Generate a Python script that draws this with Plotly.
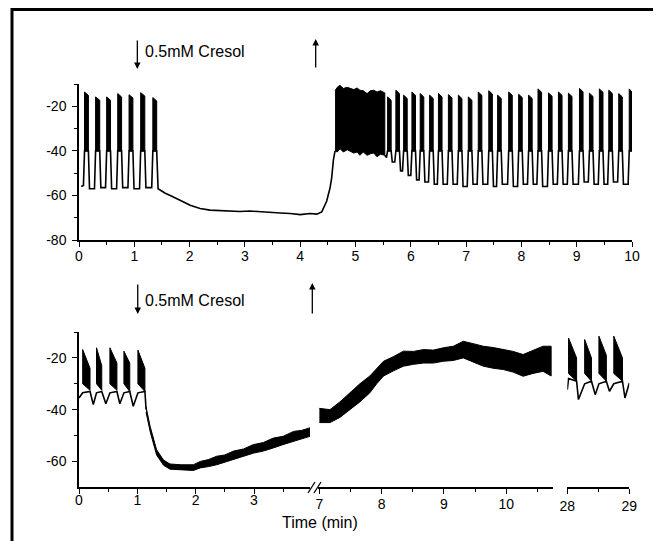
import plotly.graph_objects as go

# The page body adds an 8 px margin, so the figure is 8 px smaller and all
# screen positions below are converted with that offset.
OFF = 8
W, H = 661 - OFF, 541 - OFF
FONT = "Liberation Sans, Arial, sans-serif"

# ---------------- Top panel data (time in min, membrane potential in mV) ----------------
top_plateau = -40
top_pre_on = [0.10, 0.30, 0.50, 0.70, 0.905, 1.115, 1.335]
top_pre_off = [0.17, 0.375, 0.57, 0.77, 0.975, 1.19, 1.405]
top_pre_peak = [-13.6, -15.8, -15.8, -14.3, -14.8, -13.9, -16.1]
top_pre_trough = [-55.5, -57, -56.5, -57, -56.5, -57, -56.5]
top_start = (0.04, -56)

top_decay_t = [1.43, 1.47, 1.56, 1.65, 1.74, 1.83, 1.92, 2.01, 2.10, 2.19, 2.37, 2.55, 2.73,
               2.91, 3.09, 3.27, 3.46, 3.64, 3.82, 4.00, 4.18, 4.30, 4.39, 4.44, 4.48, 4.51,
               4.54, 4.57, 4.60, 4.63]
top_decay_v = [-57, -57.7, -59, -60, -61, -62.2, -63.3, -64.4, -65.2, -65.9, -66.6, -66.9, -67,
               -67.2, -67, -67.4, -67.8, -67.9, -68.1, -68.6, -68.1, -68.4, -67.4, -65, -62.5,
               -59.5, -56.6, -52, -44.2, -40]

top_band_t = [4.63, 4.67, 4.72, 4.78, 4.85, 4.90, 4.97, 5.03, 5.08, 5.14, 5.21, 5.27, 5.33, 5.39, 5.45, 5.53]
top_band_hi = [-13, -11.5, -10.6, -12, -11.5, -12, -12.5, -11.8, -12.8, -13, -14.3, -13, -12.8, -13.6, -13, -14]
top_band_lo = [-40, -40.5, -39, -40.5, -39.5, -40, -41, -40.5, -42, -40.5, -42, -41.3, -41, -42.7, -41.5, -42]

top_post_on = [5.58, 5.73, 5.87, 6.02, 6.17, 6.34, 6.50, 6.68, 6.86, 7.04, 7.22, 7.41, 7.57,
               7.77, 7.95, 8.13, 8.30, 8.49, 8.67, 8.85, 9.05, 9.23, 9.41, 9.58, 9.76, 9.95]
top_post_off = [5.645, 5.795, 5.935, 6.085, 6.235, 6.405, 6.565, 6.745, 6.925, 7.105, 7.285,
                7.475, 7.635, 7.835, 8.015, 8.195, 8.365, 8.555, 8.735, 8.915, 9.115, 9.295,
                9.475, 9.645, 9.825, 10.0]
top_post_peak = [-15.8, -12.8, -15, -13.6, -14.3, -15, -14.3, -14.8, -15, -15.8, -13.6, -13, -15,
                 -13.6, -14.6, -15, -12.2, -14, -13.6, -14.1, -12, -14.1, -12.2, -12.8, -14.3, -12.2]
top_post_trough = [-43, -45, -49, -51, -53, -54, -55, -55, -55, -56, -55, -55, -56, -55, -56,
                   -55, -55, -56, -55, -55, -55, -54, -55, -55, -54, -55]

# ---------------- Bottom panel data ----------------
# segment 1 (0 - 4 min)
bot_b_on = [0.063, 0.30, 0.53, 0.77, 1.01]
bot_b_off = [0.189, 0.39, 0.65, 0.87, 1.13]
bot_b_peak = [-16.8, -16.1, -16.1, -17.4, -17.0]
bot_b_end = [-24, -23, -22, -22, -24]
bot_b_base_on = [-30, -30, -30, -30, -30]
bot_b_base_off = [-32.5, -32.5, -32.5, -33, -33]

bot_line_t = [0.0, 0.063, 0.189, 0.245, 0.30, 0.39, 0.46, 0.53, 0.65, 0.70, 0.77, 0.87, 0.93,
              1.01, 1.13, 1.15]
bot_line_v = [-35.5, -33.5, -33, -38, -33.5, -33, -37.7, -33.5, -33, -37.7, -33.5, -33, -38.7,
              -33.5, -33, -40]

bot_s1_t = [1.15, 1.22, 1.33, 1.45, 1.56, 1.75, 1.96, 2.08, 2.22, 2.36, 2.50, 2.65, 2.82, 2.99,
            3.16, 3.33, 3.50, 3.68, 3.82, 3.96]
bot_s1_hi = [-39, -46.5, -55.5, -59.5, -61, -61.3, -61.3, -60, -59.3, -58, -57.5, -56, -55.2,
             -53.5, -52.7, -51, -50.3, -48.4, -48, -47]
bot_s1_lo = [-41, -48.5, -57.5, -61.5, -63, -63.2, -63.5, -62.5, -62, -61.3, -60.3, -59.3, -58,
             -56.8, -56, -54.8, -53.5, -52.3, -51.2, -50.3]

# segment 2 (7 - 10.75 min)
bot_s2_t = [7.0, 7.17, 7.33, 7.49, 7.65, 7.81, 7.92, 8.03, 8.19, 8.35, 8.51, 8.67, 8.83, 8.99,
            9.15, 9.31, 9.47, 9.63, 9.79, 9.95, 10.11, 10.27, 10.43, 10.59, 10.72]
bot_s2_hi = [-39.5, -40, -37, -33.6, -30, -27, -24, -21.3, -19.5, -17.4, -17.5, -16.8, -17, -16.1,
             -15.5, -13.6, -14.5, -15.5, -16, -16.8, -17.5, -18.7, -17, -15.5, -15.5]
bot_s2_lo = [-45, -45, -43, -40, -37, -33.5, -30, -27, -25, -23.2, -22.5, -22, -22, -21.3,
             -21, -20, -21.5, -23.2, -24, -24.5, -25.5, -27.1, -26, -25.2, -27]

# segment 3 (28 - 29 min)
bot_s3_on = [28.02, 28.28, 28.51, 28.75]
bot_s3_off = [28.15, 28.39, 28.63, 28.89]
bot_s3_peak = [-12.3, -12.9, -11.6, -11.6]
bot_s3_end = [-20, -20, -19, -20]
bot_s3_base_on = [-26, -26, -26, -26]
bot_s3_base_off = [-29, -29, -29, -29]
bot_s3_line_t = [28.0, 28.02, 28.15, 28.18, 28.28, 28.39, 28.45, 28.51, 28.63, 28.68, 28.75,
                 28.89, 28.93, 29.0]
bot_s3_line_v = [-32.3, -28, -29, -36.1, -30, -29, -34.2, -30, -29, -32.9, -30, -29, -35.5, -29.7]

# ---------------- Tick labels ----------------
top_x_ticks = list(range(0, 11))
top_x_minor = [0.5 + i for i in range(10)]
top_y_ticks = [-80, -60, -40, -20]
top_y_minor = [-70, -50, -30, -10]
bot_y_ticks = [-60, -40, -20]
bot_y_minor = [-50, -30, -10]
s1_ticks, s1_minor = [0, 1, 2, 3], [0.5, 1.5, 2.5, 3.5]
s2_ticks, s2_minor = [7, 8, 9, 10], [7.5, 8.5, 9.5, 10.5]
s3_ticks, s3_minor = [28, 29], [28.5]

EDGE = 0.02  # duration of the slow-wave rise/fall edges (style)


def burst_polys(on, off, peak, end, base_on, base_off):
    xs, ys = [], []
    for a, b, p, e, l1, l2 in zip(on, off, peak, end, base_on, base_off):
        xs += [a, a, b, b, a, None]
        ys += [l1, p, e, l2, l1, None]
    return xs, ys


def cycle_line(on, off, trough, plateau):
    xs, ys = [], []
    for i in range(len(on)):
        xs += [on[i] - EDGE, on[i], off[i]]
        ys += [trough[i], plateau, plateau]
        if i + 1 < len(on):
            xs.append(off[i] + EDGE)
            ys.append(trough[i + 1])
    return xs, ys


def band(t, hi, lo):
    return t + t[::-1], hi + lo[::-1]


K = "black"
fig = go.Figure()

# ---- top panel ----
lx, ly = cycle_line(top_pre_on, top_pre_off, top_pre_trough, top_plateau)
lx = [top_start[0]] + lx + top_decay_t
ly = [top_start[1]] + ly + top_decay_v
fig.add_trace(go.Scatter(x=lx, y=ly, mode="lines", line=dict(color=K, width=1.6), xaxis="x", yaxis="y"))
px_, py_ = burst_polys(top_pre_on, top_pre_off, top_pre_peak,
                       [p - 1.5 for p in top_pre_peak], [top_plateau] * 7, [top_plateau] * 7)
fig.add_trace(go.Scatter(x=px_, y=py_, mode="lines", fill="toself", fillcolor=K,
                         line=dict(color=K, width=1), xaxis="x", yaxis="y"))
bx, by = band(top_band_t, top_band_hi, top_band_lo)
fig.add_trace(go.Scatter(x=bx, y=by, mode="lines", fill="toself", fillcolor=K,
                         line=dict(color=K, width=1), xaxis="x", yaxis="y"))
lx, ly = cycle_line(top_post_on, top_post_off, top_post_trough, top_plateau)
lx = [top_band_t[-1]] + lx
ly = [top_band_lo[-1]] + ly
fig.add_trace(go.Scatter(x=lx, y=ly, mode="lines", line=dict(color=K, width=1.6), xaxis="x", yaxis="y"))
n = len(top_post_on)
px_, py_ = burst_polys(top_post_on, top_post_off, top_post_peak,
                       [p - 1.5 for p in top_post_peak], [top_plateau] * n, [top_plateau] * n)
fig.add_trace(go.Scatter(x=px_, y=py_, mode="lines", fill="toself", fillcolor=K,
                         line=dict(color=K, width=1), xaxis="x", yaxis="y"))

# ---- bottom panel, segment 1 ----
fig.add_trace(go.Scatter(x=bot_line_t, y=bot_line_v, mode="lines", line=dict(color=K, width=1.6),
                         xaxis="x2", yaxis="y2"))
px_, py_ = burst_polys(bot_b_on, bot_b_off, bot_b_peak, bot_b_end, bot_b_base_on, bot_b_base_off)
fig.add_trace(go.Scatter(x=px_, y=py_, mode="lines", fill="toself", fillcolor=K,
                         line=dict(color=K, width=1), xaxis="x2", yaxis="y2"))
bx, by = band(bot_s1_t, bot_s1_hi, bot_s1_lo)
fig.add_trace(go.Scatter(x=bx, y=by, mode="lines", fill="toself", fillcolor=K,
                         line=dict(color=K, width=1), xaxis="x2", yaxis="y2"))
# ---- segment 2 ----
bx, by = band(bot_s2_t, bot_s2_hi, bot_s2_lo)
fig.add_trace(go.Scatter(x=bx, y=by, mode="lines", fill="toself", fillcolor=K,
                         line=dict(color=K, width=1), xaxis="x3", yaxis="y2"))
# ---- segment 3 ----
fig.add_trace(go.Scatter(x=bot_s3_line_t, y=bot_s3_line_v, mode="lines",
                         line=dict(color=K, width=1.6), xaxis="x4", yaxis="y2"))
px_, py_ = burst_polys(bot_s3_on, bot_s3_off, bot_s3_peak, bot_s3_end, bot_s3_base_on, bot_s3_base_off)
fig.add_trace(go.Scatter(x=px_, y=py_, mode="lines", fill="toself", fillcolor=K,
                         line=dict(color=K, width=1), xaxis="x4", yaxis="y2"))


def fx(p):
    return (p - OFF) / W


def fy(p):
    return 1 - (p - OFF) / H


def axis(domain, rng, ticks, minor, anchor, labels=None, standoff=0):
    return dict(domain=domain, range=rng, anchor=anchor, showline=True, linecolor=K, linewidth=1.5,
                ticks="outside", ticklen=5, tickwidth=1.3, tickcolor=K, showgrid=False, zeroline=False,
                automargin=False, tickmode="array", tickvals=ticks, ticklabelstandoff=standoff,
                ticktext=labels if labels else [str(t) for t in ticks],
                minor=dict(tickmode="array", tickvals=minor, ticks="outside", ticklen=3,
                           tickwidth=1.2, tickcolor=K, showgrid=False),
                tickfont=dict(family=FONT, size=14, color=K), fixedrange=True)


fig.update_layout(
    template="none",
    width=W, height=H, margin=dict(l=0, r=0, t=0, b=0, pad=0),
    paper_bgcolor="white", plot_bgcolor="white", showlegend=False,
    xaxis=axis([fx(79), fx(632)], [0, 10], top_x_ticks, top_x_minor, "y", standoff=-3),
    yaxis=axis([fy(240), fy(84)], [-80, -10], top_y_ticks, top_y_minor, "x",
               [str(t) for t in top_y_ticks], standoff=3),
    xaxis2=axis([fx(79), fx(310)], [0, 3.96], s1_ticks, s1_minor, "y2", standoff=-6),
    xaxis3=axis([fx(318), fx(552.7)], [6.978, 10.745], s2_ticks, s2_minor, "y2", standoff=-2),
    xaxis4=axis([fx(567.3), fx(629.3)], [28, 29], s3_ticks, s3_minor, "y2", standoff=0),
    yaxis2=axis([fy(487.3), fy(332)], [-70, -10], bot_y_ticks, bot_y_minor, "x2",
                [str(t) for t in bot_y_ticks], standoff=3),
)

ann_font = dict(family=FONT, size=16, color=K)
arrow = dict(showarrow=True, arrowhead=2, arrowsize=1, arrowwidth=1.3, arrowcolor=K, text="",
             axref="pixel", ayref="pixel", ax=0)
fig.add_annotation(x=1.055, xref="x", y=fy(69), yref="paper", ay=-30, **arrow)
fig.add_annotation(x=4.28, xref="x", y=fy(39), yref="paper", ay=30, **arrow)
fig.add_annotation(x=1.007, xref="x2", y=fy(314), yref="paper", ay=-31, **arrow)
fig.add_annotation(x=fx(312.3), xref="paper", y=fy(283), yref="paper", ay=32, **arrow)
fig.add_annotation(x=1.153, xref="x", y=fy(51.7), yref="paper", text="0.5mM Cresol",
                   showarrow=False, xanchor="left", yanchor="middle", font=ann_font)
fig.add_annotation(x=1.103, xref="x2", y=fy(300), yref="paper", text="0.5mM Cresol",
                   showarrow=False, xanchor="left", yanchor="middle", font=ann_font)
fig.add_annotation(x=fx(320), xref="paper", y=fy(522), yref="paper", text="Time (min)",
                   showarrow=False, xanchor="center", yanchor="middle", font=ann_font)

# axis break marks and outer frame
for x0 in (308, 314):
    fig.add_shape(type="line", xref="paper", yref="paper", x0=fx(x0), y0=fy(493), x1=fx(x0 + 7),
                  y1=fy(482), line=dict(color=K, width=1.3))
fig.add_shape(type="rect", xref="paper", yref="paper", x0=fx(12), y0=fy(548), x1=fx(658), y1=fy(9.5),
              line=dict(color=K, width=3))

fig.write_html("out.html")
